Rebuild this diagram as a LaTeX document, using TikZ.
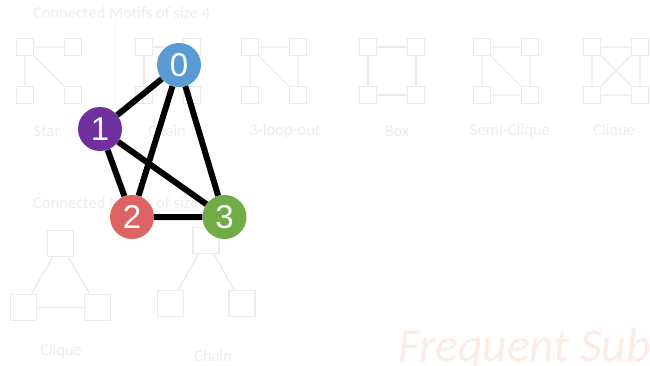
\documentclass[tikz,border=0pt]{standalone}
\usepackage{fontspec}
\setmainfont{Carlito}
\newfontfamily\numfont{Liberation Sans}
\definecolor{sqc}{HTML}{EBEBEB}
\definecolor{txc}{HTML}{EDEDED}
\definecolor{salm}{HTML}{FDECE6}
\definecolor{nzero}{HTML}{5B9BD5}
\definecolor{nfirst}{HTML}{7030A0}
\definecolor{ntwo}{HTML}{DE6464}
\definecolor{nthree}{HTML}{70AD47}
\newcommand\fourmotif[4]{%
  \node[sqbox] (#1a) at (#2-24,47) {};
  \node[sqbox] (#1b) at (#2+24,47) {};
  \node[sqbox] (#1c) at (#2-24,95) {};
  \node[sqbox] (#1d) at (#2+24,95) {};
  \node[lbl] (#1l) at (#4,131) {#3};
}
\begin{document}
\begin{tikzpicture}[x=1pt,y=-1pt,
  sqbox/.style={draw=sqc, line width=1.4pt, fill=white, minimum size=17pt, inner sep=0pt},
  bigsq/.style={sqbox, minimum size=26pt},
  sqe/.style={draw=sqc, line width=1.4pt},
  lbl/.style={text=txc, inner sep=1pt, font=\fontsize{16.5}{18}\selectfont},
  gnode/.style={circle, minimum size=44pt, inner sep=0pt, text=white, font=\numfont\fontsize{33}{33}\selectfont},
  gedge/.style={line width=6pt, draw=black}]
\useasboundingbox (0,0) rectangle (650,365);
% size 4 title
\node[lbl, anchor=west] (t4) at (32,13) {Connected Motifs of size 4};
\draw[draw=txc!60!white, line width=0.8pt] (115,22) -- (115,108);
% motifs of size 4
\fourmotif{st}{49}{Star}{47}
\draw[sqe] (sta) -- (stb) (sta) -- (stc) (sta) -- (std);
\fourmotif{ch}{168}{Chain}{167}
\draw[sqe] (chc) -- (cha) -- (chb) -- (chd);
\fourmotif{lo}{274}{3-loop-out}{285}
\draw[sqe] (loa) -- (lob) (loa) -- (loc) (loa) -- (lod) (lob) -- (lod);
\fourmotif{bx}{392}{Box}{397}
\draw[sqe] (bxa) -- (bxb) -- (bxd) -- (bxc) -- (bxa);
\fourmotif{sc}{506}{Semi-Clique}{510}
\draw[sqe] (sca) -- (scb) -- (scd) -- (scc) -- (sca) (sca) -- (scd);
\fourmotif{cq}{616}{Clique}{614}
\draw[sqe] (cqa) -- (cqb) -- (cqd) -- (cqc) -- (cqa) (cqa) -- (cqd) (cqb) -- (cqc);
% size 3
\node[lbl, anchor=west] (t3) at (32,203) {Connected Motifs of size 3};
\node[bigsq] (tqa) at (60.5,243.5) {};
\node[bigsq] (tqb) at (23.5,307.5) {};
\node[bigsq] (tqc) at (97.5,307.5) {};
\draw[sqe] (tqa) -- (tqb) -- (tqc) -- (tqa);
\node[lbl] (tql) at (61,351) {Clique};
\node[bigsq] (tca) at (206,240.5) {};
\node[bigsq] (tcb) at (170.5,303.5) {};
\node[bigsq] (tcc) at (242,303.5) {};
\draw[sqe] (tcb) -- (tca) -- (tcc);
\node[lbl] (tcl) at (213,355.5) {Chain};
% watermark
\node[text=salm, anchor=base west, inner sep=0pt, font=\itshape\fontsize{47.5}{47.5}\selectfont] (fs) at (398,361) {Frequent Sub};
% graph
\node[gnode, fill=nzero] (n0) at (179,65) {0};
\node[gnode, fill=nfirst] (n1) at (100,129) {1};
\node[gnode, fill=ntwo] (n2) at (132,217) {2};
\node[gnode, fill=nthree] (n3) at (224.5,217) {3};
\draw[gedge] (n0) -- (n1) (n0) -- (n2) (n0) -- (n3) (n1) -- (n2) (n1) -- (n3) (n2) -- (n3);
\end{tikzpicture}
\end{document}
